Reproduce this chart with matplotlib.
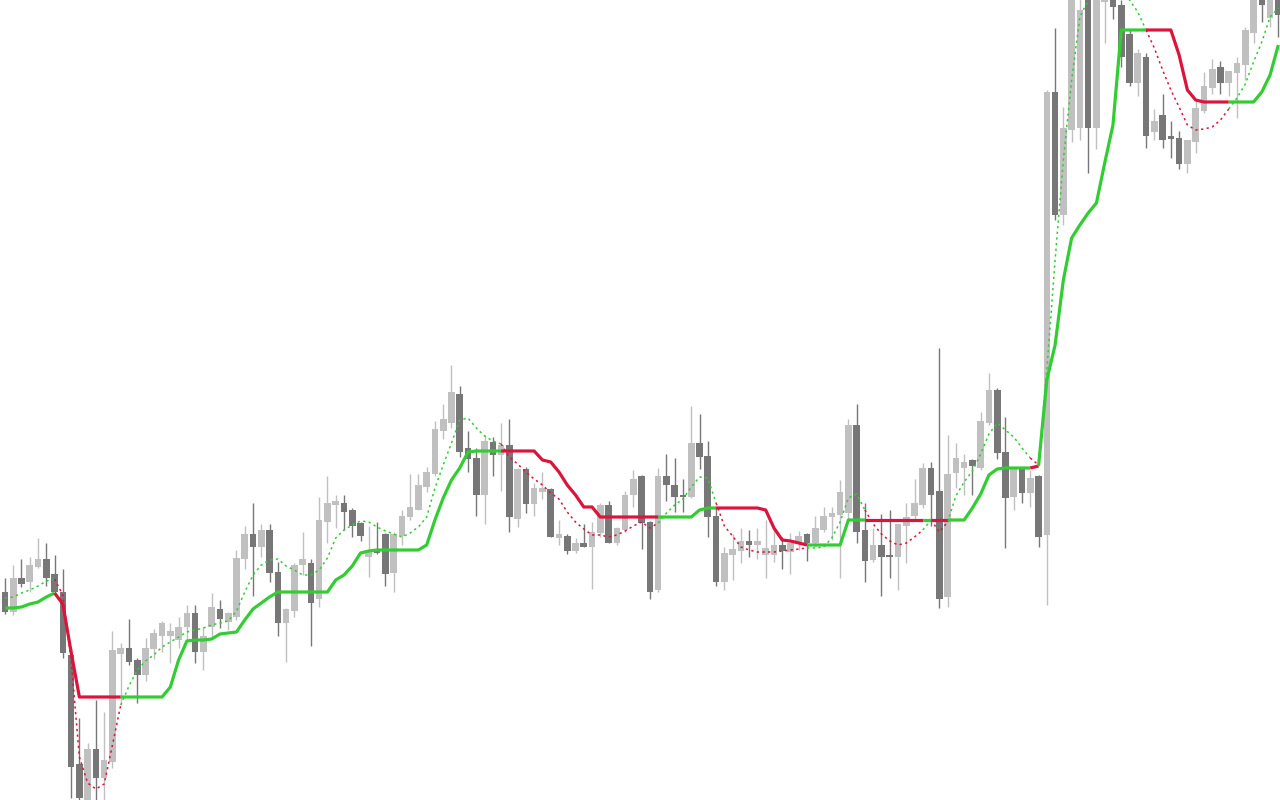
import numpy as np
import matplotlib
matplotlib.use("Agg")
import matplotlib.pyplot as plt

# OHLC, one value per bar (155 bars)
opens = [
    208, 188, 222, 218, 233, 241, 226, 208, 145, 36,
    0, 51, 22, 38, 146, 152, 140, 125, 151, 164,
    164, 160, 173, 187, 148, 173, 191, 178, 183, 241,
    266, 253, 270, 228, 177, 189, 235, 237, 201, 278,
    295, 297, 290, 277, 243, 250, 266, 227, 264, 283,
    290, 313, 326, 369, 377, 406, 352, 342, 305, 358,
    345, 355, 281, 331, 296, 308, 311, 262, 264, 249,
    257, 253, 267, 295, 257, 270, 305, 324, 278, 210,
    324, 315, 305, 303, 357, 344, 284, 218, 245, 249,
    259, 255, 245, 245, 255, 248, 257, 266, 257, 270,
    283, 285, 287, 375, 270, 240, 255, 245, 243, 274,
    284, 295, 332, 309, 203, 327, 332, 340, 332, 377,
    410, 348, 303, 332, 307, 324, 265, 708, 585, 670,
    672, 800, 672, 798, 805, 795, 766, 717, 743, 668,
    685, 664, 662, 636, 658, 689, 712, 733, 717, 727,
    735, 767, 810, 782, 805,
]
highs = [
    222, 235, 241, 243, 262, 257, 245, 231, 152, 82,
    57, 100, 88, 169, 157, 181, 142, 162, 171, 179,
    177, 183, 195, 195, 173, 207, 200, 188, 250, 274,
    297, 276, 276, 238, 192, 237, 268, 241, 303, 324,
    305, 305, 292, 278, 274, 278, 267, 268, 290, 326,
    326, 333, 379, 396, 435, 414, 369, 352, 365, 363,
    377, 381, 332, 333, 317, 328, 312, 280, 266, 262,
    276, 278, 297, 299, 273, 309, 330, 325, 279, 332,
    346, 342, 321, 394, 386, 359, 293, 253, 266, 272,
    270, 272, 280, 272, 263, 267, 269, 267, 284, 293,
    293, 320, 381, 396, 297, 272, 286, 290, 276, 297,
    321, 337, 338, 452, 365, 357, 346, 341, 388, 427,
    412, 383, 332, 333, 330, 325, 710, 772, 693, 820,
    810, 810, 810, 820, 815, 800, 770, 751, 747, 691,
    706, 679, 669, 660, 700, 728, 741, 739, 729, 743,
    773, 805, 815, 810, 810,
]
lows = [
    186, 185, 213, 208, 232, 214, 205, 142, 2, -5,
    -5, 0, 0, 32, 95, 135, 97, 119, 141, 148,
    137, 152, 160, 137, 130, 163, 172, 170, 180, 231,
    204, 243, 218, 164, 138, 183, 225, 154, 193, 257,
    272, 270, 263, 259, 223, 246, 214, 208, 255, 280,
    290, 308, 324, 361, 372, 343, 328, 284, 276, 324,
    309, 268, 273, 287, 284, 301, 263, 255, 246, 247,
    253, 211, 263, 257, 255, 268, 293, 251, 201, 208,
    299, 288, 288, 302, 331, 263, 214, 210, 220, 237,
    243, 241, 222, 238, 231, 226, 250, 239, 253, 268,
    260, 222, 280, 257, 218, 238, 204, 222, 210, 237,
    280, 292, 274, 192, 193, 312, 305, 305, 330, 375,
    341, 252, 290, 297, 293, 253, 195, 580, 575, 658,
    660, 627, 651, 757, 781, 733, 714, 704, 652, 660,
    652, 642, 631, 627, 647, 687, 706, 706, 704, 682,
    720, 757, 778, 773, 763,
]
closes = [
    188, 222, 216, 235, 241, 222, 208, 147, 33, 2,
    51, 22, 40, 150, 152, 138, 125, 152, 167, 177,
    169, 173, 187, 148, 164, 193, 181, 187, 242, 266,
    253, 270, 227, 177, 191, 235, 241, 197, 280, 297,
    299, 288, 274, 264, 250, 247, 226, 266, 284, 293,
    315, 328, 371, 381, 408, 348, 341, 305, 359, 345,
    355, 283, 331, 296, 312, 312, 263, 266, 249, 257,
    253, 268, 295, 257, 272, 305, 321, 277, 208, 324,
    315, 303, 303, 357, 343, 283, 218, 247, 251, 259,
    255, 259, 252, 255, 249, 257, 264, 257, 272, 284,
    287, 308, 375, 268, 239, 255, 243, 243, 276, 283,
    297, 332, 305, 201, 326, 342, 338, 334, 379, 410,
    347, 302, 332, 307, 322, 263, 708, 585, 672, 805,
    790, 672, 800, 810, 793, 743, 717, 747, 664, 679,
    660, 661, 636, 660, 692, 714, 731, 717, 729, 737,
    770, 800, 795, 805, 785,
]

# trailing stop line (thick) and signal line (dotted)
trail = [
    192, 192, 193, 196, 198, 203, 207, 196, 148, 103,
    103, 103, 103, 103, 103, 103, 103, 103, 103, 103,
    113, 140, 159, 160, 160, 161, 166, 167, 168, 180,
    191, 197, 203, 208, 208, 208, 208, 208, 208, 208,
    220, 225, 234, 247, 249, 250, 250, 250, 250, 250,
    250, 255, 280, 302, 320, 332, 348, 349, 349, 349,
    349, 349, 349, 349, 349, 340, 338, 328, 315, 305,
    293, 293, 283, 283, 283, 283, 283, 283, 283, 283,
    283, 283, 283, 283, 290, 292, 292, 292, 292, 292,
    292, 292, 290, 272, 260, 259, 257, 255, 255, 255,
    255, 255, 280, 280, 280, 280, 280, 280, 280, 280,
    280, 280, 280, 280, 280, 280, 280, 292, 306, 325,
    331, 332, 332, 332, 332, 334, 420, 455, 520, 562,
    575, 587, 597, 637, 675, 770, 770, 770, 770, 770,
    770, 770, 745, 710, 700, 698, 698, 698, 698, 698,
    698, 698, 708, 725, 755,
]
signal = [
    202, 203, 207, 210, 214, 219, 221, 205, 140, 43,
    17, 11, 16, 55, 95, 114, 130, 139, 145, 153,
    158, 163, 168, 170, 172, 175, 177, 179, 189, 208,
    225, 235, 240, 241, 234, 230, 225, 225, 230, 242,
    262, 270, 275, 279, 278, 273, 269, 266, 263, 267,
    273, 283, 312, 335, 357, 380, 382, 372, 364, 359,
    356, 343, 336, 328, 321, 315, 307, 301, 288, 278,
    271, 265, 265, 263, 265, 269, 274, 278, 272, 277,
    287, 295, 301, 313, 323, 322, 297, 274, 264, 253,
    250, 248, 248, 248, 249, 250, 251, 252, 252, 253,
    262, 278, 302, 306, 290, 276, 266, 259, 255, 257,
    263, 270, 280, 268, 278, 304, 318, 329, 346, 366,
    377, 370, 363, 352, 342, 335, 430, 540, 640, 720,
    783, 800, 815, 825, 825, 815, 800, 788, 770, 752,
    730, 710, 693, 675, 670, 671, 673, 680, 691, 702,
    716, 738, 758, 783, 792,
]

# bar ranges (first, last) where the trend is down
down_runs = [(7, 14), (61, 79), (87, 97), (105, 111), (113, 114), (125, 125), (139, 148)]

UP_COL = '#32cd32'
DOWN_COL = '#dc143c'
BULL_COL = '#c0c0c0'
BEAR_COL = '#777777'

o = np.array(opens, float)
h = np.array(highs, float)
l = np.array(lows, float)
c = np.array(closes, float)
n = len(o)
x = np.arange(n)

trend = np.ones(n)
for a, b in down_runs:
    trend[a:b + 1] = -1

fig = plt.figure(figsize=(12.8, 8), dpi=100)
ax = fig.add_axes([0, 0, 1, 1])
ax.set_axis_off()

bull = c >= o
cols = np.where(bull, BULL_COL, BEAR_COL)
ax.vlines(x, l, h, colors=cols, linewidth=1.0, zorder=1)
body_low = np.minimum(o, c)
body_h = np.maximum(np.abs(c - o), 1.2)
ax.bar(x, body_h, bottom=body_low, width=0.8, color=cols, linewidth=0, zorder=2)


def draw_trend_line(vals, **kw):
    vals = np.asarray(vals, float)
    start = 1
    for i in range(2, n + 1):
        if i == n or trend[i] != trend[start]:
            col = UP_COL if trend[start] > 0 else DOWN_COL
            ax.plot(x[start - 1:i], vals[start - 1:i], color=col, **kw)
            start = i


draw_trend_line(signal, linewidth=1.1, linestyle=(0, (1.5, 2.2)), zorder=3)
draw_trend_line(trail, linewidth=2.3, solid_capstyle='butt', zorder=4)

ax.set_xlim(-0.6, 154.2)
ax.set_ylim(0, 800)

fig.savefig('out.png', dpi=100, facecolor='white')
